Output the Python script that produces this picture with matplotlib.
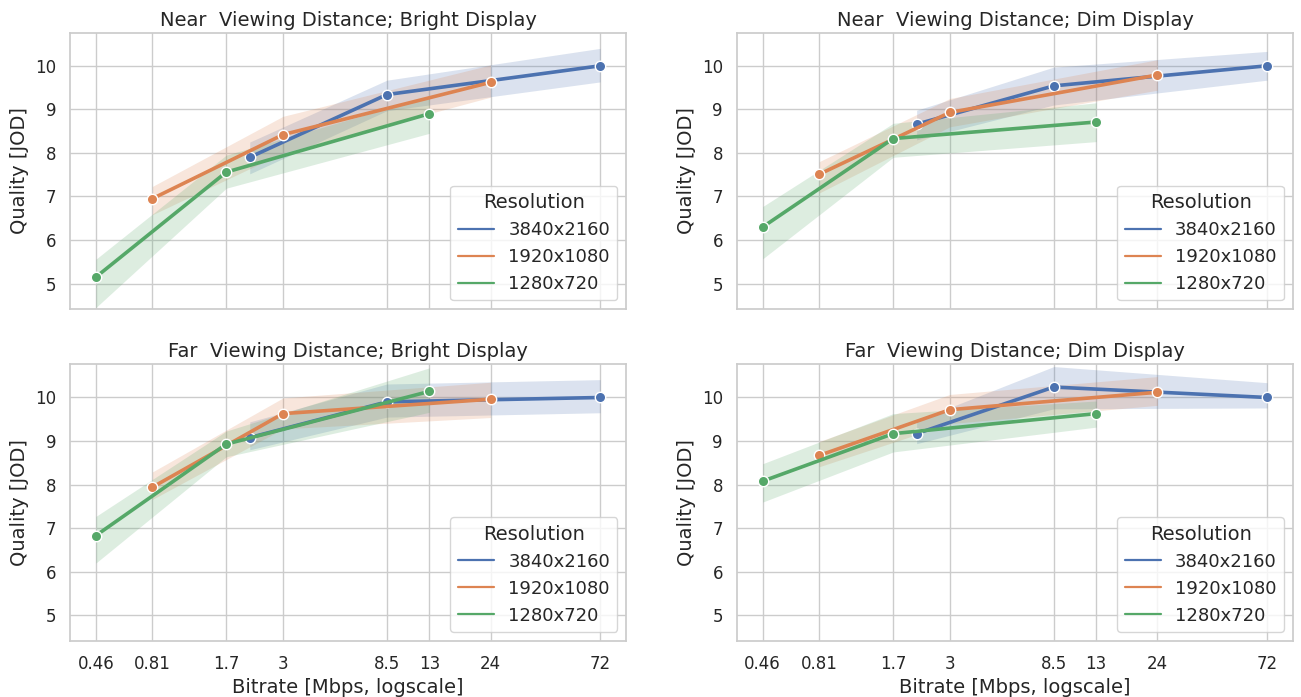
import numpy as np
import matplotlib
matplotlib.use("Agg")
import matplotlib.pyplot as plt
import seaborn as sns
from matplotlib.lines import Line2D

sns.set_theme(style="whitegrid")
plt.rcParams['font.family'] = ['DejaVu Sans']

# ---------------- data ----------------
resolutions = ["3840x2160", "1920x1080", "1280x720"]
bitrate_4k = [2.15, 8.5, 72]
bitrate_1080 = [0.81, 3, 24]
bitrate_720 = [0.46, 1.7, 13]

tick_values = [0.46, 0.81, 1.7, 3, 8.5, 13, 24, 72]
tick_labels = ["0.46", "0.81", "1.7", "3", "8.5", "13", "24", "72"]
y_ticks = [5, 6, 7, 8, 9, 10]

titles = ["Near  Viewing Distance; Bright Display",
          "Near  Viewing Distance; Dim Display",
          "Far  Viewing Distance; Bright Display",
          "Far  Viewing Distance; Dim Display"]

# Near / Bright
nb_4k = [7.90, 9.34, 10.00]
nb_4k_lo = [7.52, 8.97, 9.63]
nb_4k_hi = [8.25, 9.67, 10.40]
nb_1080 = [6.95, 8.42, 9.62]
nb_1080_lo = [6.58, 8.00, 9.28]
nb_1080_hi = [7.23, 8.84, 10.02]
nb_720 = [5.15, 7.56, 8.90]
nb_720_lo = [4.45, 7.19, 8.45]
nb_720_hi = [5.56, 7.95, 9.30]

# Near / Dim
nd_4k = [8.66, 9.54, 10.00]
nd_4k_lo = [8.30, 9.10, 9.67]
nd_4k_hi = [8.98, 9.97, 10.33]
nd_1080 = [7.51, 8.93, 9.79]
nd_1080_lo = [7.08, 8.60, 9.44]
nd_1080_hi = [7.80, 9.25, 10.14]
nd_720 = [6.30, 8.33, 8.71]
nd_720_lo = [5.57, 7.90, 8.26]
nd_720_hi = [6.77, 8.68, 9.15]

# Far / Bright
fb_4k = [9.08, 9.90, 10.00]
fb_4k_lo = [8.80, 9.55, 9.65]
fb_4k_hi = [9.44, 10.31, 10.41]
fb_1080 = [7.94, 9.63, 9.96]
fb_1080_lo = [7.66, 9.28, 9.54]
fb_1080_hi = [8.29, 9.99, 10.35]
fb_720 = [6.83, 8.93, 10.14]
fb_720_lo = [6.20, 8.64, 9.66]
fb_720_hi = [7.27, 9.23, 10.68]

# Far / Dim
fd_4k = [9.17, 10.24, 10.00]
fd_4k_lo = [8.94, 9.74, 9.76]
fd_4k_hi = [9.47, 10.71, 10.34]
fd_1080 = [8.67, 9.72, 10.12]
fd_1080_lo = [8.41, 9.40, 9.82]
fd_1080_hi = [8.99, 10.07, 10.48]
fd_720 = [8.08, 9.17, 9.63]
fd_720_lo = [7.60, 8.75, 9.32]
fd_720_hi = [8.48, 9.63, 9.92]

panels = [
    [(nb_4k, nb_4k_lo, nb_4k_hi), (nb_1080, nb_1080_lo, nb_1080_hi), (nb_720, nb_720_lo, nb_720_hi)],
    [(nd_4k, nd_4k_lo, nd_4k_hi), (nd_1080, nd_1080_lo, nd_1080_hi), (nd_720, nd_720_lo, nd_720_hi)],
    [(fb_4k, fb_4k_lo, fb_4k_hi), (fb_1080, fb_1080_lo, fb_1080_hi), (fb_720, fb_720_lo, fb_720_hi)],
    [(fd_4k, fd_4k_lo, fd_4k_hi), (fd_1080, fd_1080_lo, fd_1080_hi), (fd_720, fd_720_lo, fd_720_hi)],
]
bitrates = [bitrate_4k, bitrate_1080, bitrate_720]
colors = ["#4C72B0", "#DD8452", "#55A868"]

fig, axes = plt.subplots(2, 2, figsize=(13.01, 6.97), dpi=100, sharex=True, sharey=True)
fig.subplots_adjust(left=0.0538, right=0.9939, top=0.9531, bottom=0.0803,
                    wspace=0.199, hspace=0.199)

for ax, title, panel in zip(axes.flat, titles, panels):
    for x, (y, lo, hi), c in zip(bitrates, panel, colors):
        ax.fill_between(x, lo, hi, color=c, alpha=0.2, linewidth=0)
        ax.plot(x, y, color=c, lw=2.6, marker='o', markersize=7.5,
                markeredgecolor='white', markeredgewidth=1.0, zorder=3)
    ax.set_xscale('log')
    ax.set_xlim(0.355, 93.4)
    ax.set_ylim(4.41, 10.76)
    ax.set_xticks(tick_values)
    ax.set_xticklabels(tick_labels)
    ax.xaxis.set_minor_locator(matplotlib.ticker.NullLocator())
    ax.set_yticks(y_ticks)
    ax.tick_params(labelsize=12, pad=4)
    ax.set_title(title, fontsize=14, pad=5)
    ax.set_ylabel("Quality [JOD]", fontsize=14)
    ax.yaxis.set_tick_params(labelleft=True)
    handles = [Line2D([0], [0], color=c, lw=1.6) for c in colors]
    leg = ax.legend(handles, resolutions, title="Resolution", loc="lower right",
                    fontsize=13, title_fontsize=14)

for ax in axes[1]:
    ax.set_xlabel("Bitrate [Mbps, logscale]", fontsize=14)

fig.savefig("out.png", dpi=100)
